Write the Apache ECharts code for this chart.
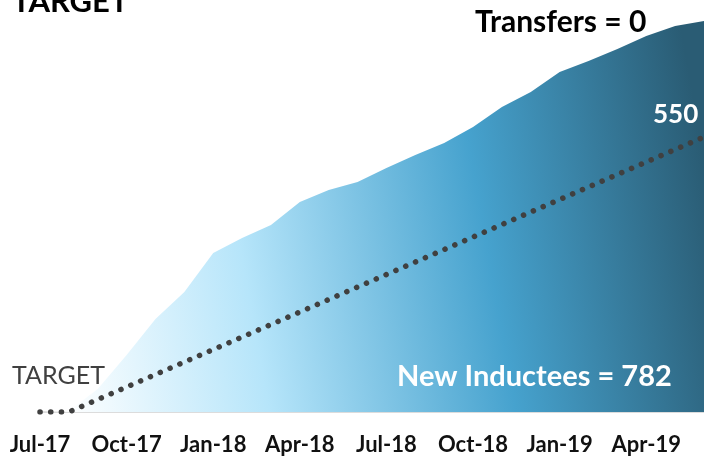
<!DOCTYPE html>
<html>
<head>
<meta charset="utf-8">
<script src="https://cdn.jsdelivr.net/npm/echarts@6/dist/echarts.min.js"></script>
<style>
html,body{margin:0;padding:0;background:#fff;}
#chart{width:704px;height:458px;}
</style>
</head>
<body>
<div id="chart"></div>
<script>
var months = ['Jul-17','Aug-17','Sep-17','Oct-17','Nov-17','Dec-17','Jan-18','Feb-18','Mar-18','Apr-18','May-18','Jun-18','Jul-18','Aug-18','Sep-18','Oct-18','Nov-18','Dec-18','Jan-19','Feb-19','Mar-19','Apr-19','May-19','Jun-19'];
var inductees = [0, 2, 46, 114, 186, 240, 318, 348, 374, 420, 444, 460, 488, 514, 538, 570, 610, 640, 680, 702, 726, 752, 772, 782];
var target = [0, 0, 25, 50, 75, 100, 125, 150, 175, 200, 225, 250, 275, 300, 325, 350, 375, 400, 425, 450, 475, 500, 525, 550];

var FONT = 'Lato';
var chart = echarts.init(document.getElementById('chart'), null, {renderer: 'canvas'});
chart.setOption({
  animation: false,
  backgroundColor: '#ffffff',
  grid: {left: 40, right: -5, top: 12, bottom: 46, containLabel: false},
  xAxis: {
    type: 'category',
    data: months,
    boundaryGap: false,
    axisLine: {show: true, lineStyle: {color: '#dcdcdc', width: 2}},
    axisTick: {show: false},
    axisLabel: {
      interval: 2,
      margin: 22,
      color: '#111111',
      fontFamily: FONT,
      fontWeight: 'bold',
      fontSize: 22
    },
    splitLine: {show: false}
  },
  yAxis: {
    type: 'value', min: 0, max: 800, show: false,
    splitLine: {show: false}
  },
  series: [
    {
      name: 'New Inductees',
      type: 'line',
      data: inductees,
      symbol: 'none',
      lineStyle: {width: 0},
      areaStyle: {
        opacity: 1,
        color: new echarts.graphic.LinearGradient(0, 0.65, 1, 0.35, [
          {offset: 0, color: '#ffffff'},
          {offset: 0.3, color: '#b6e5fa'},
          {offset: 0.66, color: '#46a2ce'},
          {offset: 1, color: '#2a5c74'}
        ])
      },
      z: 1
    },
    {
      name: 'Target',
      type: 'line',
      data: target,
      symbol: 'none',
      lineStyle: {color: '#404040', width: 5.5, type: [0.1, 10.6], cap: 'round'},
      z: 3
    }
  ],
  graphic: [
    {type: 'text', left: 12, top: -14, z: 10, style: {text: 'TARGET', fill: '#000', font: 'bold 31px ' + FONT}},
    {type: 'text', left: 475, top: 7, z: 10, style: {text: 'Transfers = 0', fill: '#000', font: 'bold 30px ' + FONT}},
    {type: 'text', left: 653, top: 102, z: 10, style: {text: '550', fill: '#fff', font: 'bold 26px ' + FONT}},
    {type: 'text', left: 12, top: 363, z: 10, style: {text: 'TARGET', fill: '#404040', font: '25px ' + FONT}},
    {type: 'text', left: 397, top: 362, z: 10, style: {text: 'New Inductees = 782', fill: '#fff', font: 'bold 29px ' + FONT}}
  ]
});
</script>
</body>
</html>
